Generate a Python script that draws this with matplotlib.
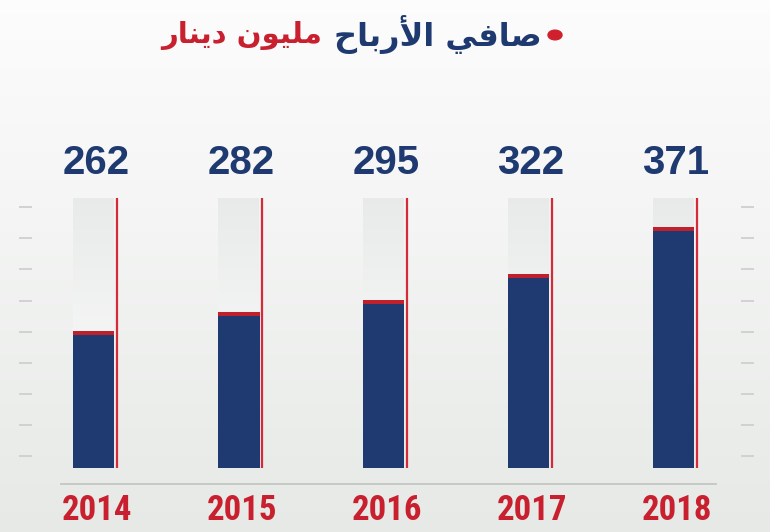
import numpy as np
import matplotlib
matplotlib.use("Agg")
import matplotlib.pyplot as plt
from matplotlib.lines import Line2D
from matplotlib.patches import Circle
import matplotlib.transforms as mtrans
from matplotlib import font_manager as fm

# ---- data ----
years = ["2014", "2015", "2016", "2017", "2018"]
profits = [262, 282, 295, 322, 371]
title_main = "\uFEA1\uFE8E\uFE91\uFEAD\uFEF7\uFE8D \uFEF2\uFED3\uFE8E\uFEBB"   # صافي الأرباح (shaped, visual order)
title_unit = "\uFEAD\uFE8E\uFEE8\uFEF3\uFEA9 \uFEE5\uFEEE\uFEF4\uFEE0\uFEE3"   # مليون دينار (shaped, visual order)

NAVY = "#1e3a70"
RED = "#c8202e"
W, H = 770, 532


def find_condensed_bold():
    prefs = ["liberationsansnarrow-bold", "robotocondensed-bold", "dejavusanscondensed-bold",
             "notosans-condensedbold", "opensans-condensedbold", "opensanscondensed-bold"]
    files = {}
    for f in fm.fontManager.ttflist:
        key = f.fname.split("/")[-1].rsplit(".", 1)[0].lower()
        files[key] = f.fname
    for p in prefs:
        if p in files:
            return fm.FontProperties(fname=files[p])
    for k, v in files.items():
        if ("narrow" in k or "condensed" in k) and "bold" in k and "italic" not in k and "oblique" not in k and "semi" not in k and "extra" not in k:
            return fm.FontProperties(fname=v)
    return None


cond_fp = find_condensed_bold()

fig = plt.figure(figsize=(W / 100, H / 100), dpi=100)

# background gradient
bg = fig.add_axes([0, 0, 1, 1], zorder=-10)
grad = np.linspace(0, 1, 256)[:, None]
top_c = np.array([0.99, 0.99, 0.99])
bot_c = np.array([0.905, 0.915, 0.905])
img = top_c[None, None, :] * (1 - grad[:, :, None]) + bot_c[None, None, :] * grad[:, :, None]
bg.imshow(img, aspect="auto", extent=(0, 1, 0, 1), origin="upper")
bg.set_xlim(0, 1); bg.set_ylim(0, 1)
bg.axis("off")

# main axes (pixel-aligned)
ax_l, ax_r, ax_b, ax_t = 19, 754, 468, 198
ax = fig.add_axes([ax_l / W, (H - ax_b) / H, (ax_r - ax_l) / W, (ax_b - ax_t) / H])
ax.patch.set_alpha(0)
for s in ax.spines.values():
    s.set_visible(False)

step_px = 145.0
c0_px = 94.0
ax.set_xlim((ax_l - c0_px) / step_px, (ax_r - c0_px) / step_px)
ymin, ymax = 118.6, 401.6
ax.set_ylim(ymin, ymax)

x = np.arange(len(years))
bw = 41 / step_px

# gray columns (gradient)
col_grad = np.linspace(0, 1, 200)[:, None]
cg_top = np.array([0.91, 0.92, 0.915])
cg_bot = np.array([1.0, 1.0, 1.0])
col_img = cg_top[None, None, :] * (1 - col_grad[:, :, None]) + cg_bot[None, None, :] * col_grad[:, :, None]
for xi in x:
    ax.imshow(col_img, aspect="auto", origin="upper",
              extent=(xi - bw / 2, xi + bw / 2, ymin, ymax), zorder=1)

# bars
ax.bar(x, np.array(profits) - ymin, bottom=ymin, width=bw, color=NAVY, zorder=2, linewidth=0)
cap = 4 * (ymax - ymin) / (ax_b - ax_t)
ax.bar(x, cap, bottom=np.array(profits) - cap, width=bw, color="#c0202c", zorder=3, linewidth=0)

# red vertical lines
off = 23.5 / step_px
ax.vlines(x + off, ymin, ymax, color="#d42a3a", linewidth=1.6, zorder=3)

# value labels
trans = mtrans.blended_transform_factory(ax.transData, ax.transAxes)
for xi, v in zip(x, profits):
    ax.text(xi + 2 / step_px, (ax_b - 163) / (ax_b - ax_t), str(v), transform=trans,
            ha="center", va="center", fontsize=29, fontweight="bold", color=NAVY,
            family=["Liberation Sans", "DejaVu Sans"])

# year labels
for xi, y in zip(x, years):
    if cond_fp is not None:
        ax.text(xi + 3 / step_px, (ax_b - 510) / (ax_b - ax_t), y, transform=trans,
                ha="center", va="center", fontproperties=cond_fp, fontsize=25, color=RED)
    else:
        ax.text(xi + 3 / step_px, (ax_b - 510) / (ax_b - ax_t), y, transform=trans,
                ha="center", va="center", fontsize=21, fontweight="bold", color=RED,
                family=["Liberation Sans", "DejaVu Sans"])

# decorative ticks left & right
ax.set_xticks([])
tick_fr = (12 + 31.1 * np.arange(9)) / (ax_b - ax_t)
ax.set_yticks(ymin + tick_fr * (ymax - ymin))
ax.tick_params(axis="y", which="both", direction="in", length=9.5, width=1.3,
               color="#cfcfcf", left=True, right=True, labelleft=False, labelright=False)

# baseline
fig.add_artist(Line2D([61 / W, 716 / W], [(H - 484) / H] * 2, color="#c4c6c4", linewidth=1.3))

# title
fig.add_artist(Circle((555 / W, (H - 35) / H), radius=7 / W, transform=fig.transFigure,
                      color="#d0202e"))
fig.text(542 / W, (H - 35) / H, title_main, ha="right", va="center", fontsize=23,
         fontweight="bold", color=NAVY, family=["DejaVu Sans"])
fig.text(322 / W, (H - 35) / H, title_unit, ha="right", va="center", fontsize=21,
         fontweight="bold", color="#c8202e", family=["DejaVu Sans"])

fig.savefig("out.png", dpi=100)
